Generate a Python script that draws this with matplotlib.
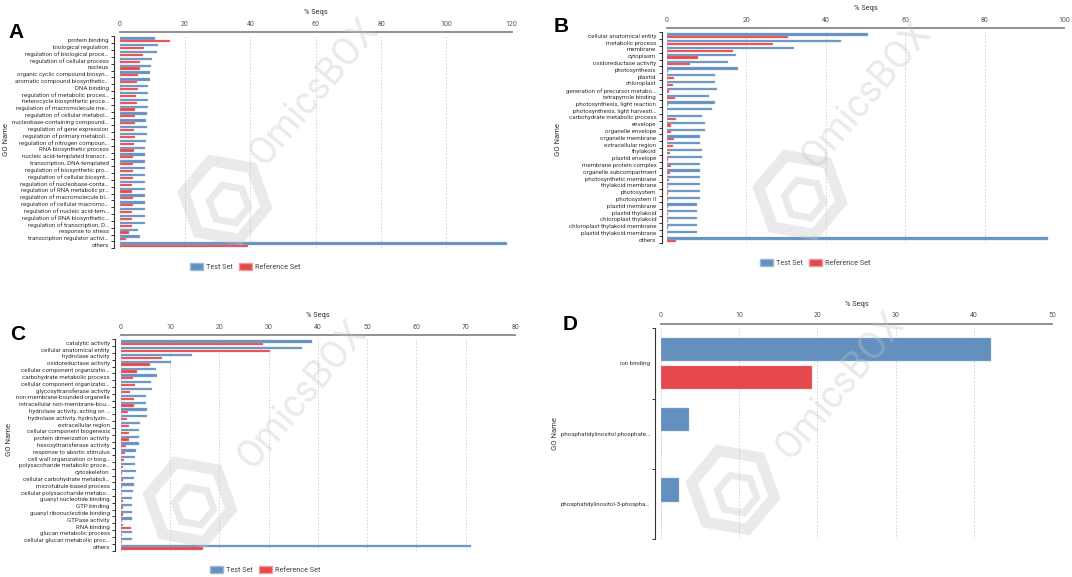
import matplotlib
matplotlib.use("Agg")
import matplotlib.pyplot as plt
from matplotlib.patches import RegularPolygon, Patch
from matplotlib.transforms import IdentityTransform
import numpy as np

plt.rcParams['font.family'] = ['Roboto', 'DejaVu Sans']

W, H = 1072, 577
BLUE = '#6490bf'
RED = '#e4474c'

# ---- panel A ----
a_terms = ["protein binding", "biological regulation", "regulation of biological proce…",
           "regulation of cellular process", "nucleus", "organic cyclic compound biosyn…",
           "aromatic compound biosynthetic…", "DNA binding", "regulation of metabolic proces…",
           "heterocycle biosynthetic proce…", "regulation of macromolecule me…",
           "regulation of cellular metabol…", "nucleobase-containing compound…",
           "regulation of gene expression", "regulation of primary metaboli…",
           "regulation of nitrogen compoun…", "RNA biosynthetic process",
           "nucleic acid-templated transcr…", "transcription, DNA-templated",
           "regulation of biosynthetic pro…", "regulation of cellular biosynt…",
           "regulation of nucleobase-conta…", "regulation of RNA metabolic pr…",
           "regulation of macromolecule bi…", "regulation of cellular macromo…",
           "regulation of nucleic acid-tem…", "regulation of RNA biosynthetic…",
           "regulation of transcription, D…", "response to stress",
           "transcription regulator activi…", "others"]
a_test = [10.9, 11.7, 11.4, 10.0, 9.7, 9.3, 9.3, 8.8, 8.8, 8.6, 8.6, 8.4, 8.2, 8.3, 8.3,
          8.1, 7.8, 7.8, 7.8, 7.8, 7.8, 7.8, 7.8, 7.7, 7.7, 7.7, 7.7, 7.7, 5.5, 6.3, 118.5]
a_ref = [15.4, 7.4, 7.0, 6.3, 6.3, 5.5, 5.2, 5.6, 5.0, 5.2, 4.8, 4.7, 4.8, 4.5, 4.6,
         4.5, 4.4, 4.2, 4.2, 4.2, 4.2, 3.9, 3.9, 4.1, 4.1, 3.9, 3.9, 3.9, 2.9, 2.0, 39.4]

# ---- panel B ----
b_terms = ["cellular anatomical entity", "metabolic process", "membrane", "cytoplasm",
           "oxidoreductase activity", "photosynthesis", "plastid", "chloroplast",
           "generation of precursor metabo…", "tetrapyrrole binding",
           "photosynthesis, light reaction", "photosynthesis, light harvesti…",
           "carbohydrate metabolic process", "envelope", "organelle envelope",
           "organelle membrane", "extracellular region", "thylakoid", "plastid envelope",
           "membrane protein complex", "organelle subcompartment", "photosynthetic membrane",
           "thylakoid membrane", "photosystem", "photosystem II", "plastid membrane",
           "plastid thylakoid", "chloroplast thylakoid", "chloroplast thylakoid membrane",
           "plastid thylakoid membrane", "others"]
b_test = [50.7, 43.8, 32.0, 17.3, 15.3, 18.0, 12.1, 12.1, 12.7, 10.7, 12.1, 11.4, 8.9, 9.5,
          9.5, 8.2, 8.2, 8.9, 8.9, 8.2, 8.2, 8.2, 8.2, 8.2, 8.2, 7.5, 7.5, 7.5, 7.5, 7.5, 96.0]
b_ref = [30.4, 26.8, 16.6, 7.7, 5.9, 0.3, 1.7, 1.6, 0.6, 2.1, 0.2, 0.05, 2.3, 0.9,
         0.9, 1.8, 1.6, 0.8, 0.35, 0.9, 0.8, 0.45, 0.2, 0.15, 0.15, 0.15, 0.15, 0.15, 0.15, 0.1, 2.2]

# ---- panel C ----
c_terms = ["catalytic activity", "cellular anatomical entity", "hydrolase activity",
           "oxidoreductase activity", "cellular component organizatio…",
           "carbohydrate metabolic process", "cellular component organizatio…",
           "glycosyltransferase activity", "non-membrane-bounded organelle",
           "intracellular non-membrane-bou…", "hydrolase activity, acting on …",
           "hydrolase activity, hydrolyzin…", "extracellular region",
           "cellular component biogenesis", "protein dimerization activity",
           "hexosyltransferase activity", "response to abiotic stimulus",
           "cell wall organization or biog…", "polysaccharide metabolic proce…",
           "cytoskeleton", "cellular carbohydrate metaboli…", "microtubule-based process",
           "cellular polysaccharide metabo…", "guanyl nucleotide binding", "GTP binding",
           "guanyl ribonucleotide binding", "GTPase activity", "RNA binding",
           "glucan metabolic process", "cellular glucan metabolic proc…", "others"]
c_test = [38.9, 36.8, 14.4, 10.3, 7.2, 7.3, 6.1, 6.3, 5.2, 5.2, 5.3, 5.3, 4.0, 3.8, 3.8,
          3.8, 3.2, 2.9, 2.9, 3.1, 2.7, 2.7, 2.4, 2.3, 2.3, 2.3, 2.3, 0.4, 2.2, 2.2, 71.0]
c_ref = [28.9, 30.3, 8.4, 6.0, 3.4, 2.4, 2.8, 1.9, 2.6, 2.6, 1.4, 1.2, 1.7, 1.6, 1.6,
         1.15, 0.95, 0.7, 0.5, 0.3, 0.55, 0.3, 0.35, 0.5, 0.5, 0.5, 0.3, 2.1, 0.3, 0.3, 16.6]

# ---- panel D ----
d_terms = ["ion binding", "phosphatidylinositol phosphate…", "phosphatidylinositol-3-phospha…"]
d_test = [42.2, 3.65, 2.4]
d_ref = [19.3, 0.0, 0.0]


def px_axes(fig, left, right, top, bottom):
    return fig.add_axes([left / W, 1 - bottom / H, (right - left) / W, (bottom - top) / H])


def draw_panel(ax, terms, test, ref, xmax, step, fs=5.0, yfs=4.4):
    y = np.arange(len(terms))
    h = 0.33
    ax.barh(y - 0.2, test, height=h, color=BLUE, edgecolor='#9db7d6', linewidth=0.3, zorder=3)
    ax.barh(y + 0.2, ref, height=h, color=RED, edgecolor='#f09a9c', linewidth=0.3, zorder=3)
    ax.set_xlim(0, xmax)
    ax.set_ylim(len(terms) - 0.5, -0.5)
    ax.set_yticks(y, terms)
    ax.set_yticks(np.arange(len(terms) + 1) - 0.5, minor=True)
    ax.tick_params(axis='y', which='major', length=0, pad=4, labelsize=yfs,
                   labelcolor='#333333')
    ax.tick_params(axis='y', which='minor', length=2.5, width=0.7, color='#333333',
                   direction='out')
    ax.xaxis.tick_top()
    ax.xaxis.set_label_position('top')
    ax.set_xticks(np.arange(0, xmax + 0.1, step))
    ax.tick_params(axis='x', length=0, pad=3, labelsize=fs, labelcolor='#555555')
    ax.set_xlabel('% Seqs', fontsize=fs + 0.3, color='#333333', labelpad=4.5)
    ax.grid(axis='x', linestyle=(0, (2, 2)), color='#cfcfcf', linewidth=0.6)
    ax.set_axisbelow(True)
    for s in ('right', 'bottom'):
        ax.spines[s].set_visible(False)
    ax.spines['left'].set_position(('outward', 3.8))
    ax.spines['left'].set_color('#333333')
    ax.spines['left'].set_linewidth(0.8)
    ax.spines['top'].set_position(('outward', 3.4))
    ax.spines['top'].set_color('#888888')
    ax.spines['top'].set_linewidth(1.3)


fig = plt.figure(figsize=(W / 100, H / 100), dpi=100)

axA = px_axes(fig, 119.7, 511.7, 36.4, 248.2)
draw_panel(axA, a_terms, a_test, a_ref, 120, 20)
axB = px_axes(fig, 667, 1064, 32.4, 243.2)
draw_panel(axB, b_terms, b_test, b_ref, 100, 20)
axC = px_axes(fig, 120.7, 515, 339.4, 550.5)
draw_panel(axC, c_terms, c_test, c_ref, 80, 10)
axD = px_axes(fig, 660.7, 1052.3, 328.3, 539.3)
draw_panel(axD, d_terms, d_test, d_ref, 50, 10)

# panel letters and y labels
for letter, x, y in [('A', 16, 32), ('B', 561, 27), ('C', 18, 335), ('D', 570, 324)]:
    fig.text(x / W, 1 - y / H, letter, fontsize=15, fontweight='bold',
             family='Liberation Sans', ha='center', va='center')
for x, y in [(6, 140), (558, 140), (9, 440), (555, 433)]:
    fig.text(x / W, 1 - y / H, 'GO Name', fontsize=5.5, rotation=90,
             ha='center', va='center', color='#333333')

# legends
handles = [Patch(facecolor=BLUE, edgecolor='#9db7d6', label='Test Set'),
           Patch(facecolor=RED, edgecolor='#f09a9c', label='Reference Set')]
for x, y in [(245, 267), (815, 263), (265, 570)]:
    fig.legend(handles=handles, loc='center', bbox_to_anchor=(x / W, 1 - y / H), ncol=2,
               frameon=False, fontsize=5.2, handlelength=1.8, handleheight=1.0,
               columnspacing=0.9, handletextpad=0.4, labelcolor='#444444')

# OmicsBox watermarks
WM = '#c4c4c4'
for tx, ty, hx, hy in [(314, 92, 225, 200), (866, 95, 800, 195),
                       (302, 395, 190, 502), (840, 386, 733, 490)]:
    fig.text(tx / W, 1 - ty / H, 'OmicsBOX', fontsize=27, rotation=50, color=WM,
             alpha=0.35, ha='center', va='center', zorder=10)
    fig.add_artist(RegularPolygon((hx, H - hy), 6, radius=42, orientation=0.35, fill=False,
                                  edgecolor=WM, alpha=0.35, linewidth=8,
                                  transform=IdentityTransform(), zorder=10))
    fig.add_artist(RegularPolygon((hx + 4, H - hy - 4), 6, radius=20, orientation=0.35,
                                  fill=False, edgecolor=WM, alpha=0.35, linewidth=5,
                                  transform=IdentityTransform(), zorder=10))

fig.savefig('out.png', dpi=100)
